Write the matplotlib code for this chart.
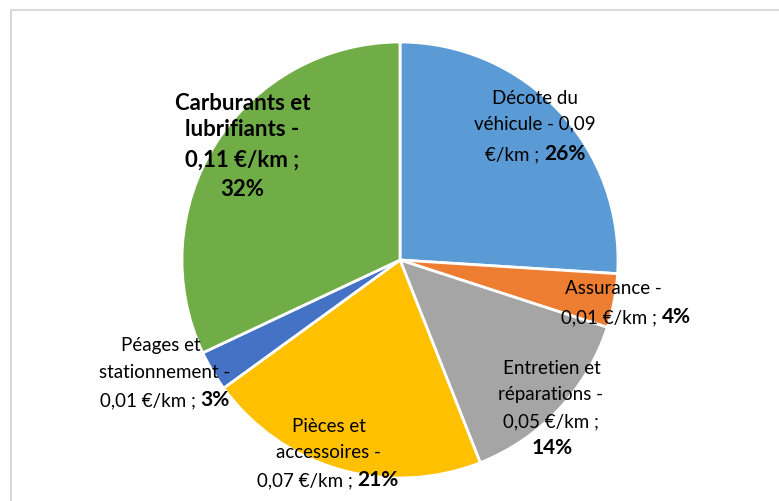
import matplotlib.pyplot as plt
from matplotlib.offsetbox import TextArea, HPacker, AnnotationBbox

plt.rcParams['font.family'] = ['Lato', 'DejaVu Sans']

# cost items (EUR per km) and share of total
postes = ["Décote du véhicule", "Assurance", "Entretien et réparations",
          "Pièces et accessoires", "Péages et stationnement", "Carburants et lubrifiants"]
couts = ["0,09", "0,01", "0,05", "0,07", "0,01", "0,11"]
parts = [26, 4, 14, 21, 3, 32]
couleurs = ["#5B9BD5", "#ED7D31", "#A5A5A5", "#FFC000", "#4472C4", "#70AD47"]

W, H = 779, 502
fig = plt.figure(figsize=(W / 100, H / 100), dpi=100)
ax = fig.add_axes([0, 0, 1, 1])

ax.pie(parts, colors=couleurs, startangle=90, counterclock=False,
       center=(400, H - 261), radius=218,
       wedgeprops=dict(edgecolor="white", linewidth=2))

# pie() resets the limits, so set them afterwards
ax.set_xlim(0, W)
ax.set_ylim(0, H)
ax.set_aspect('equal')
ax.axis('off')

# frame around the chart area
ax.plot([11, 11, W], [0, H - 11, H - 11], color="#D9D9D9", lw=1.5, solid_capstyle='butt')

FS = 13.5
FSB = 15
FSC = 16


def ligne(x, y, morceaux):
    boxes = []
    for txt, gras, taille in morceaux:
        boxes.append(TextArea(txt, textprops=dict(fontsize=taille, color="#000000",
                                                  fontweight="bold" if gras else "normal")))
    pack = HPacker(children=boxes, align="baseline", pad=0, sep=0)
    ab = AnnotationBbox(pack, (x, H - y), xycoords='data', frameon=False,
                        box_alignment=(0.5, 0.5), pad=0)
    ax.add_artist(ab)


def pct(i):
    return "%d%%" % parts[i]


# label lines: (x, y, [(text, bold, size), ...])
etiquettes = [
    [(535, 98, [("Décote du", False, FS)]),
     (535, 124, [("véhicule - " + couts[0], False, FS)]),
     (535, 154, [("€/km ; ", False, FS), (pct(0), True, FSB)])],
    [(613, 289, [("Assurance -", False, FS)]),
     (626, 317, [(couts[1] + " €/km ; ", False, FS), (pct(1), True, FSB)])],
    [(552, 368, [("Entretien et", False, FS)]),
     (551, 395, [("réparations -", False, FS)]),
     (551, 422, [(couts[2] + " €/km ;", False, FS)]),
     (552, 448, [(pct(2), True, FSB)])],
    [(329, 427, [("Pièces et", False, FS)]),
     (328, 453, [("accessoires -", False, FS)]),
     (328, 480, [(couts[3] + " €/km ; ", False, FS), (pct(3), True, FSB)])],
    [(161, 345, [("Péages et", False, FS)]),
     (165, 372, [("stationnement -", False, FS)]),
     (165, 400, [(couts[4] + " €/km ; ", False, FS), (pct(4), True, FSB)])],
    [(243, 103, [("Carburants et", True, FSC)]),
     (242, 130, [("lubrifiants -", True, FSC)]),
     (242, 160, [(couts[5] + " €/km ;", True, FSC)]),
     (242, 190, [(pct(5), True, FSC)])],
]

for groupe in etiquettes:
    for x, y, morceaux in groupe:
        ligne(x, y, morceaux)

fig.savefig("out.png", dpi=100)
